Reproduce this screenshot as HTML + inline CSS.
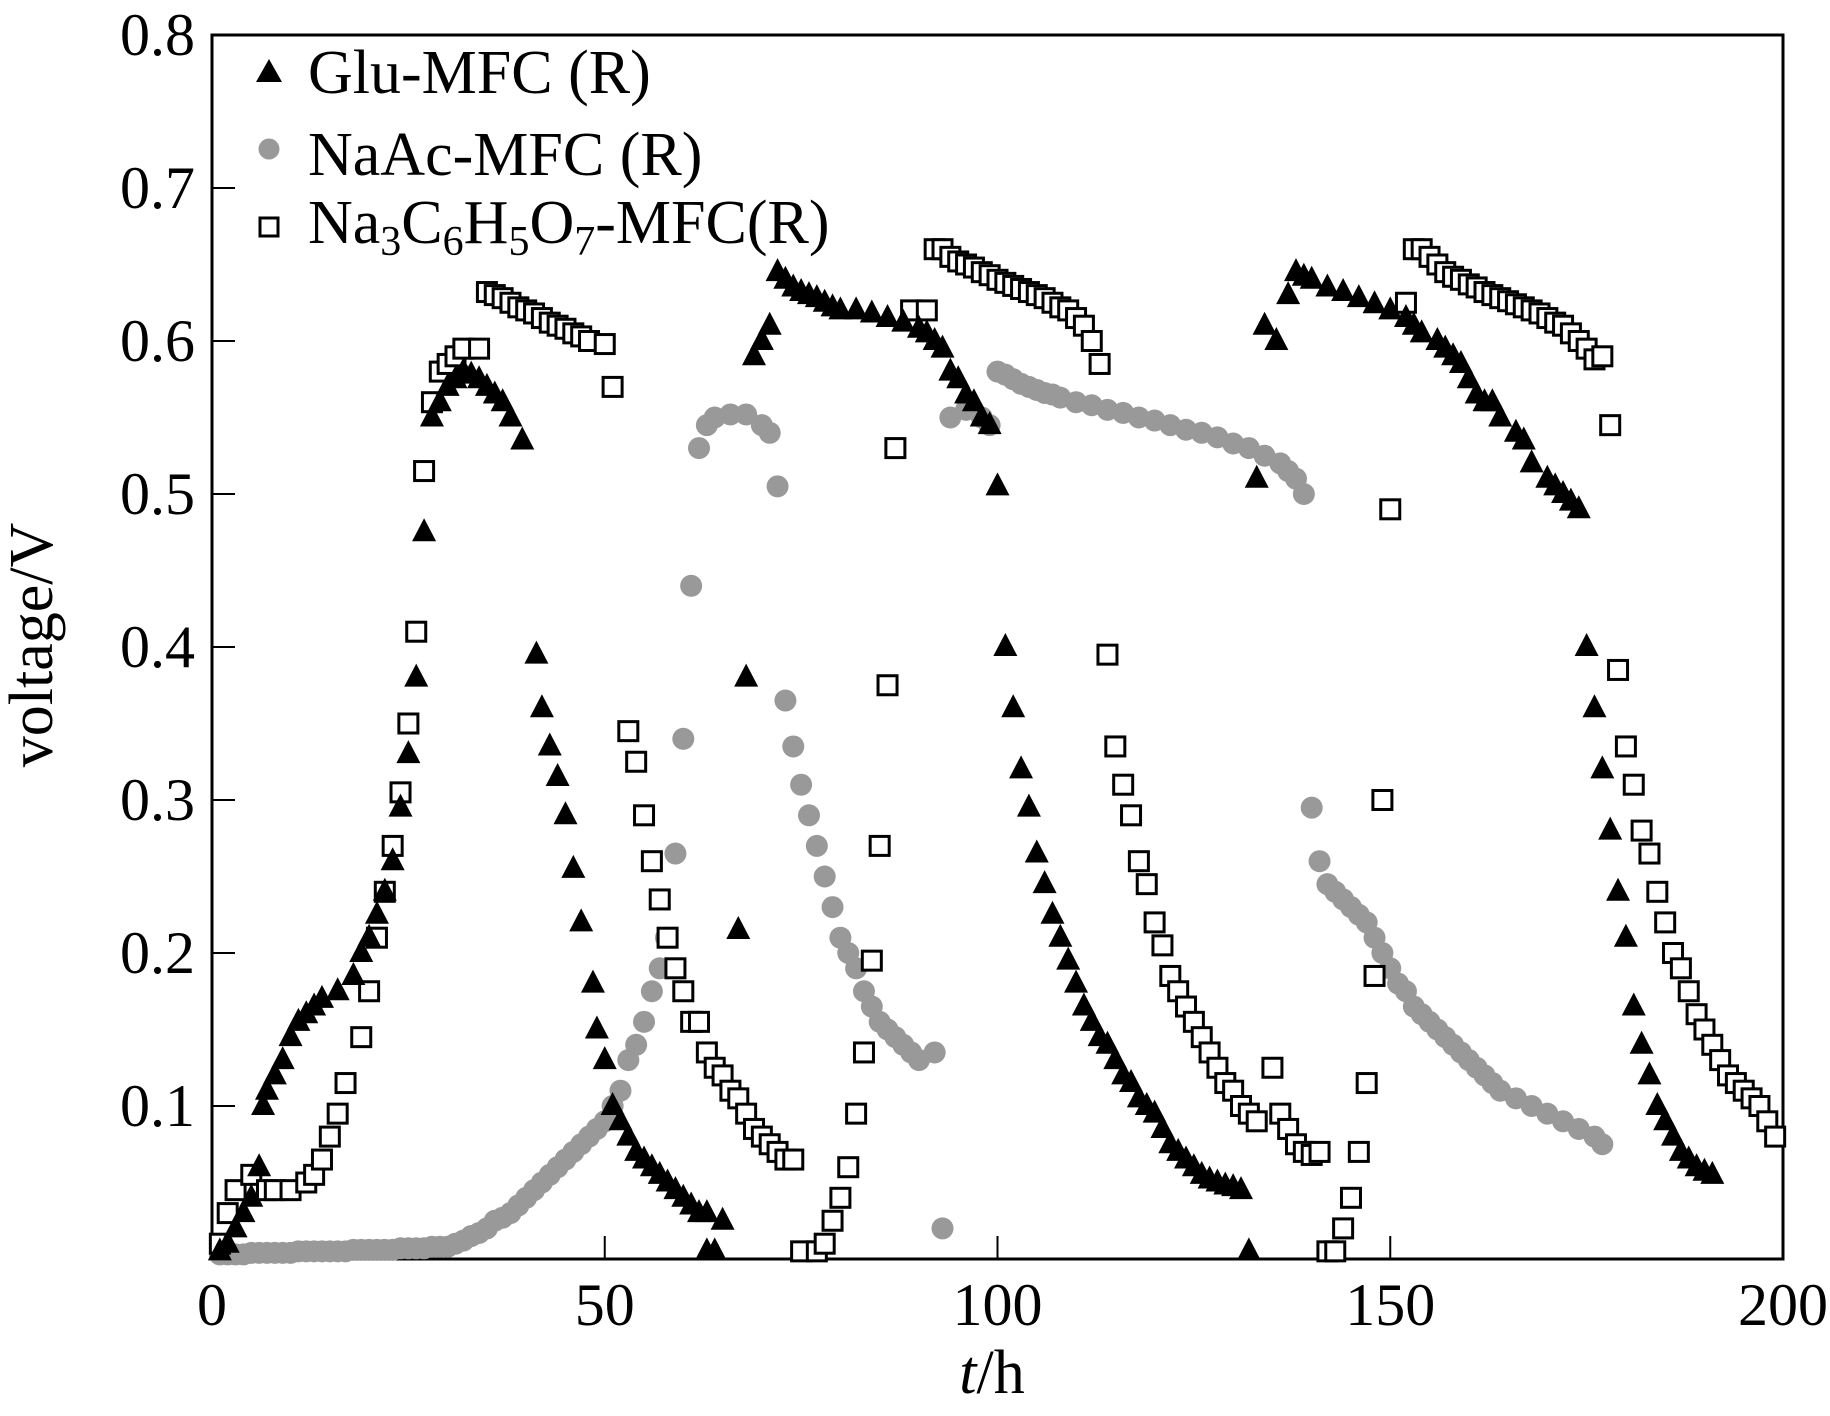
<!DOCTYPE html>
<html><head><meta charset="utf-8"><style>
html,body{margin:0;padding:0;background:#fff;}
svg{display:block;font-family:"Liberation Serif",serif;}
</style></head><body>
<svg id="chart" width="1830" height="1416" viewBox="0 0 1830 1416" xmlns="http://www.w3.org/2000/svg">
<rect x="212" y="35" width="1571" height="1224" fill="none" stroke="#000" stroke-width="3"/>
<g id="ticks"></g>
<g id="marks"></g>
<text x="992" y="1393" font-size="62" text-anchor="middle"><tspan font-style="italic">t</tspan>/h</text>
<text transform="translate(52,645) rotate(-90)" font-size="62" text-anchor="middle">voltage/V</text>
<g>
<polygon points="269,59 282,82 256,82" fill="#000"/>
<text x="308" y="93" font-size="62">Glu-MFC (R)</text>
<circle cx="269" cy="149" r="10.5" fill="#999"/>
<text x="308" y="175" font-size="62">NaAc-MFC (R)</text>
<rect x="260" y="218" width="18" height="18" fill="#fff" stroke="#000" stroke-width="3"/>
<text x="308" y="243" font-size="62">Na<tspan font-size="42" dy="12">3</tspan><tspan dy="-12">C</tspan><tspan font-size="42" dy="12">6</tspan><tspan dy="-12">H</tspan><tspan font-size="42" dy="12">5</tspan><tspan dy="-12">O</tspan><tspan font-size="42" dy="12">7</tspan><tspan dy="-12">-MFC(R)</tspan></text>
</g>
</svg>
<script>
const xTicks=[0,50,100,150,200];
const yTicks=[0.1,0.2,0.3,0.4,0.5,0.6,0.7,0.8];
const yTickLabels=["0.1","0.2","0.3","0.4","0.5","0.6","0.7","0.8"];
const xTickLabels=["0","50","100","150","200"];
const gluT=[1,2,3,4,5,6,6.5,7,8,9,10,11,12,13,14,16,18,19,20,21,22,23,24,25,26,27,28,29,30,31,32,33,34,35,36,37,38,39.5,41.3,42,43,44,45,46,47,48.5,49,50,51,52,53,54,55,56,57,58,59,60,61,62,63,65,63,64,67,68,69,70,71,72,73,74,75,76,77,78,79,80,82,84,86,88,90,91,92,93,94,95,96,97,98,99,100,101,102,103,104,105,106,107,108,109,110,111,112,113,114,115,116,117,118,119,120,121,122,123,124,125,126,127,128,129,130,131,132,133,134,135.5,137,138,139,140,142,144,146,148,150,152,153,154,156,157,158,159,160,161,162,163,164,166,167,168,170,171,172,173,174,175,176,177,178,179,180,181,182,183,184,185,186,187,188,189,190,191];
const gluV=[0.005,0.01,0.02,0.03,0.04,0.06,0.1,0.11,0.12,0.13,0.145,0.155,0.16,0.165,0.17,0.175,0.185,0.2,0.21,0.225,0.24,0.26,0.295,0.33,0.38,0.475,0.55,0.56,0.57,0.575,0.58,0.578,0.575,0.57,0.565,0.56,0.55,0.535,0.395,0.36,0.335,0.315,0.29,0.255,0.22,0.18,0.15,0.13,0.1,0.09,0.08,0.07,0.065,0.06,0.055,0.05,0.045,0.04,0.035,0.03,0.03,0.025,0.005,0.005,0.215,0.38,0.59,0.6,0.61,0.645,0.64,0.635,0.632,0.63,0.628,0.625,0.622,0.62,0.62,0.618,0.615,0.612,0.608,0.605,0.6,0.595,0.58,0.575,0.565,0.56,0.55,0.545,0.505,0.4,0.36,0.32,0.295,0.265,0.245,0.225,0.21,0.195,0.18,0.165,0.155,0.145,0.14,0.13,0.12,0.115,0.105,0.1,0.095,0.085,0.075,0.07,0.065,0.06,0.055,0.052,0.05,0.048,0.047,0.045,0.005,0.51,0.61,0.6,0.63,0.645,0.642,0.64,0.635,0.632,0.628,0.624,0.62,0.615,0.61,0.605,0.6,0.595,0.59,0.585,0.575,0.565,0.56,0.56,0.55,0.54,0.535,0.52,0.51,0.505,0.5,0.495,0.49,0.4,0.36,0.32,0.28,0.24,0.21,0.165,0.14,0.12,0.1,0.09,0.08,0.07,0.065,0.06,0.057,0.055];
const naacT=[1,2,3,4,5,6,7,8,9,10,11,12,13,14,15,16,17,18,19,20,21,22,23,24,25,26,27,28,29,30,31,32,33,34,35,36,37,38,39,40,41,42,43,44,45,46,47,48,49,50,51,52,53,54,55,56,57,57.8,59,60,61,62,63,64,66,68,70,71,72,73,74,75,76,77,78,79,80,81,82,83,84,85,86,87,88,89,90,92,93,94,96,98,99,100,101,102,103,104,105,106,107,108,110,112,114,116,118,120,122,124,126,128,130,132,134,136,137,138,139,140,141,142,143,144,145,146,147,148,149,150,151,152,153,154,155,156,157,158,159,160,161,162,163,164,166,168,170,172,174,176,177];
const naacV=[0.003,0.003,0.003,0.003,0.004,0.004,0.004,0.004,0.004,0.004,0.005,0.005,0.005,0.005,0.005,0.005,0.005,0.006,0.006,0.006,0.006,0.006,0.006,0.007,0.007,0.007,0.007,0.008,0.008,0.008,0.01,0.012,0.015,0.017,0.02,0.025,0.027,0.03,0.035,0.04,0.045,0.05,0.055,0.06,0.065,0.07,0.075,0.08,0.085,0.09,0.1,0.11,0.13,0.14,0.155,0.175,0.19,0.21,0.265,0.34,0.44,0.53,0.545,0.55,0.552,0.552,0.545,0.54,0.505,0.365,0.335,0.31,0.29,0.27,0.25,0.23,0.21,0.2,0.19,0.175,0.165,0.155,0.15,0.145,0.14,0.135,0.13,0.135,0.02,0.55,0.555,0.55,0.545,0.58,0.578,0.575,0.572,0.57,0.568,0.566,0.565,0.563,0.56,0.558,0.555,0.553,0.55,0.548,0.545,0.542,0.54,0.537,0.533,0.53,0.525,0.52,0.515,0.51,0.5,0.295,0.26,0.245,0.24,0.235,0.23,0.225,0.22,0.21,0.2,0.19,0.18,0.175,0.165,0.16,0.155,0.15,0.145,0.14,0.135,0.13,0.125,0.12,0.115,0.11,0.105,0.1,0.095,0.09,0.085,0.08,0.075];
const citT=[1,2,3,5,7,8,10,12,13,14,15,16,17,19,20,21,22,23,24,25,26,27,28,29,30,31,32,34,35,36,37,38,39,40,41,42,43,44,45,46,47,48,50,51,53,54,55,56,57,58,59,60,61,62,63,64,65,66,67,68,69,70,71,72,73,74,75,77,78,79,80,81,82,83,84,85,86,87,89,91,92,93,94,95,96,97,98,99,100,101,102,103,104,105,106,107,108,109,110,111,112,113,114,115,116,117,118,119,120,121,122,123,124,125,126,127,128,129,130,131,132,133,135,136,137,138,139,140,141,142,143,144,145,146,147,148,149,150,152,153,154,155,156,157,158,159,160,161,162,163,164,165,166,167,168,169,170,171,172,173,174,175,176,177,178,179,180,181,182,183,184,185,186,187,188,189,190,191,192,193,194,195,196,197,198,199];
const citV=[0.01,0.03,0.045,0.055,0.045,0.045,0.045,0.05,0.055,0.065,0.08,0.095,0.115,0.145,0.175,0.21,0.24,0.27,0.305,0.35,0.41,0.515,0.56,0.58,0.585,0.59,0.595,0.595,0.632,0.63,0.628,0.625,0.622,0.62,0.618,0.615,0.612,0.61,0.608,0.605,0.603,0.6,0.598,0.57,0.345,0.325,0.29,0.26,0.235,0.21,0.19,0.175,0.155,0.155,0.135,0.125,0.12,0.11,0.105,0.095,0.085,0.08,0.075,0.07,0.065,0.065,0.005,0.005,0.01,0.025,0.04,0.06,0.095,0.135,0.195,0.27,0.375,0.53,0.62,0.62,0.66,0.66,0.655,0.652,0.65,0.648,0.645,0.643,0.64,0.638,0.636,0.634,0.632,0.63,0.628,0.625,0.622,0.62,0.615,0.61,0.6,0.585,0.395,0.335,0.31,0.29,0.26,0.245,0.22,0.205,0.185,0.175,0.165,0.155,0.145,0.135,0.125,0.115,0.11,0.1,0.095,0.09,0.125,0.095,0.085,0.075,0.07,0.068,0.07,0.005,0.005,0.02,0.04,0.07,0.115,0.185,0.3,0.49,0.625,0.66,0.66,0.655,0.65,0.645,0.642,0.64,0.637,0.635,0.632,0.63,0.628,0.626,0.624,0.622,0.62,0.618,0.615,0.612,0.61,0.605,0.6,0.595,0.588,0.59,0.545,0.385,0.335,0.31,0.28,0.265,0.24,0.22,0.2,0.19,0.175,0.16,0.15,0.14,0.13,0.12,0.115,0.11,0.105,0.1,0.09,0.08];

const NS="http://www.w3.org/2000/svg";
const X0=212,X1=1783,Y0=1259,Y1=35;
function xs(t){return X0+(t-0)/(200-0)*(X1-X0);}
function ys(v){return Y0-(v-0)/(0.8-0)*(Y0-Y1);}
function mk(tag,attrs){const e=document.createElementNS(NS,tag);for(const k in attrs)e.setAttribute(k,attrs[k]);return e;}
const ticks=document.getElementById('ticks');
xTicks.forEach((t,i)=>{
  if(t>0&&t<200){const l=mk('line',{x1:xs(t),x2:xs(t),y1:Y0,y2:Y0-23,stroke:'#000','stroke-width':2});
  
  
  ticks.appendChild(l);}
  const tx=mk('text',{x:xs(t),y:1325,'font-size':60,'text-anchor':'middle'});
  tx.textContent=xTickLabels[i];
  
  
  ticks.appendChild(tx);
});
yTicks.forEach((v,i)=>{
  if(v<0.8){const l=mk('line',{x1:X0,x2:X0+23,y1:ys(v),y2:ys(v),stroke:'#000','stroke-width':2});
  
  
  ticks.appendChild(l);}
  const tx=mk('text',{x:195,y:ys(v)+20,'font-size':60,'text-anchor':'end'});
  tx.textContent=yTickLabels[i];
  
  
  ticks.appendChild(tx);
});
const marks=document.getElementById('marks');
naacT.forEach((t,i)=>{
  const c=mk('circle',{cx:xs(t),cy:ys(naacV[i]),r:11,fill:'#999'});
  
  
  marks.appendChild(c);
});
citT.forEach((t,i)=>{
  const x=xs(t),y=ys(citV[i]);
  const r=mk('rect',{x:x-9.5,y:y-9.5,width:19,height:19,fill:'#fff',stroke:'#000','stroke-width':3});
  
  
  marks.appendChild(r);
});
gluT.forEach((t,i)=>{
  const x=xs(t),y=ys(gluV[i]);
  const p=mk('polygon',{points:`${x},${y-14} ${x+12},${y+9} ${x-12},${y+9}`,fill:'#000'});
  
  
  marks.appendChild(p);
});
</script>
</body></html>
